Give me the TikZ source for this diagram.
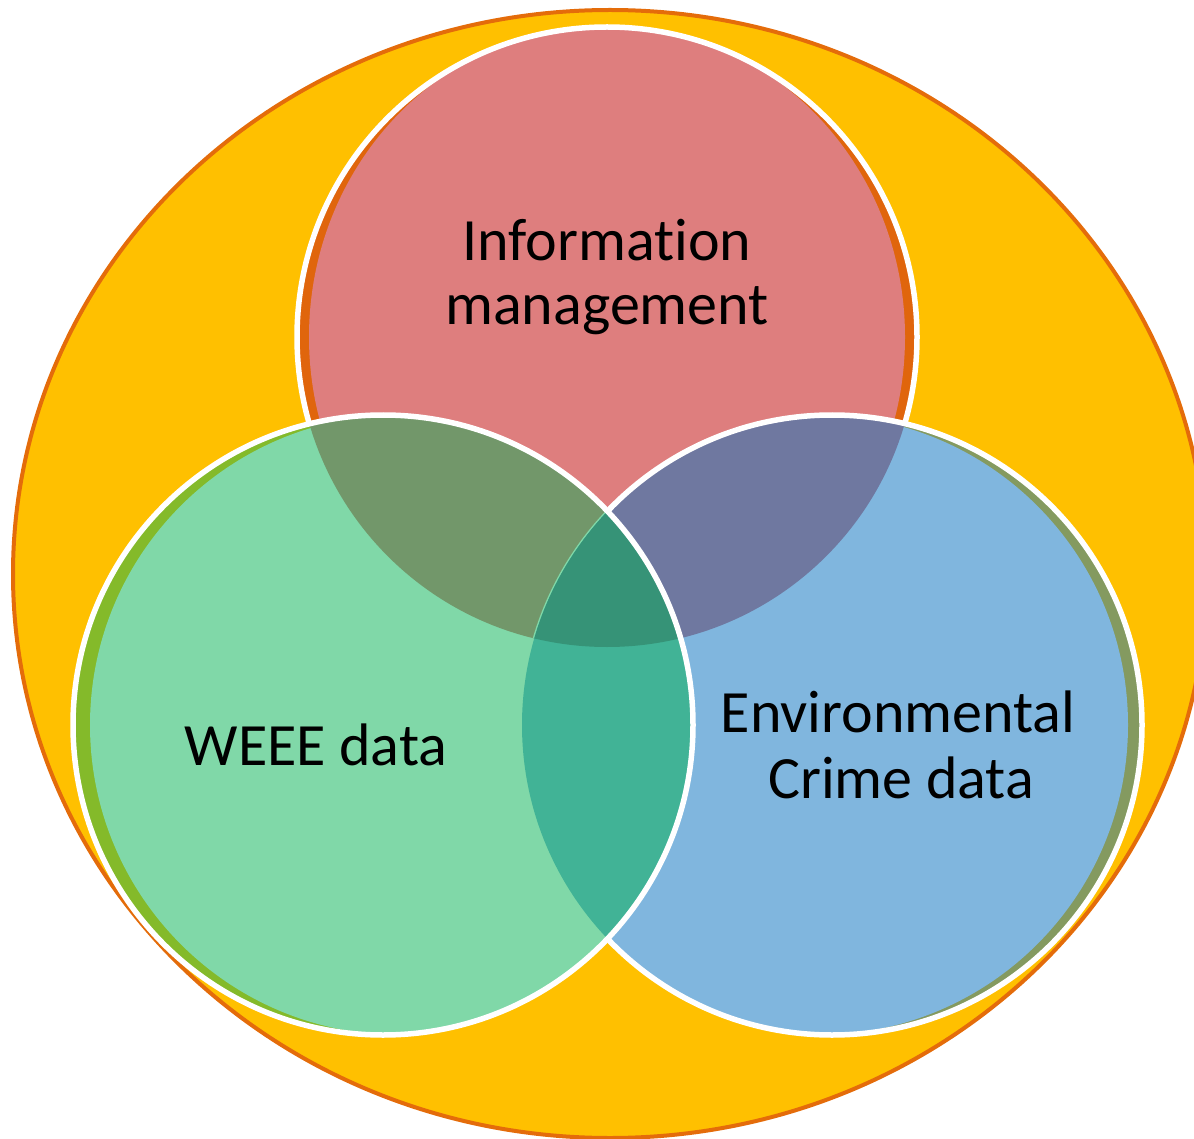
\documentclass[tikz,border=0pt]{standalone}
\usepackage{fontspec}
\setmainfont{Carlito}[Ligatures={NoCommon}]
\definecolor{yel}{HTML}{FFC000}
\definecolor{orng}{HTML}{E46C0A}
\definecolor{redF}{HTML}{DE7E7E}
\definecolor{redB}{HTML}{E0650C}
\definecolor{grnF}{HTML}{80D8A8}
\definecolor{grnB}{HTML}{84BA2A}
\definecolor{bluF}{HTML}{80B6DE}
\definecolor{bluB}{HTML}{849A60}
\definecolor{rgC}{HTML}{72976A}
\definecolor{rbC}{HTML}{6F78A0}
\definecolor{gbC}{HTML}{41B396}
\definecolor{rgbC}{HTML}{369377}
\begin{document}
\begin{tikzpicture}[x=1pt,y=-1pt,
  outline/.style={draw=white,line width=5.5pt},
  lbl/.style={font=\fontsize{60}{66}\selectfont, anchor=base, inner sep=0pt, text=black}]
\useasboundingbox (0,0) rectangle (1194,1139);
\def\R{310pt}
\coordinate (cr) at (607,337);
\coordinate (cg) at (383,725);
\coordinate (cb) at (832,725);
% big ellipse
\filldraw[fill=yel,draw=orng,line width=4pt] (610,574) ellipse [x radius=597pt, y radius=564pt];
% red circle
\fill[redB] (cr) circle[radius=\R];
\begin{scope}
  \clip (cr) circle[radius=\R];
  \fill[redF] (cr) ellipse[x radius=298pt, y radius=312pt];
\end{scope}
\draw[outline] (cr) circle[radius=\R];
% blue circle
\fill[bluB] (cb) circle[radius=\R];
\begin{scope}
  \clip (cb) circle[radius=\R];
  \fill[bluF] (818,725) circle[radius=\R];
  \clip (cr) circle[radius=\R];
  \fill[rbC] (cb) circle[radius=\R];
\end{scope}
\draw[outline] (cb) circle[radius=\R];
% green circle
\fill[grnB] (cg) circle[radius=\R];
\begin{scope}
  \clip (cg) circle[radius=\R];
  \fill[grnF] (400,725) circle[radius=\R];
  \begin{scope}
    \clip (cr) circle[radius=\R];
    \fill[rgC] (cg) circle[radius=\R];
    \draw[grnF,line width=3pt] (cb) circle[radius=\R];
  \end{scope}
  \begin{scope}
    \clip (cb) circle[radius=\R];
    \fill[gbC] (cb) circle[radius=\R];
    \clip (cr) circle[radius=\R];
    \fill[rgbC] (cb) circle[radius=\R];
  \end{scope}
\end{scope}
\draw[outline] (cg) circle[radius=\R];
% labels
\node[lbl] (info1) at (607,261) {Informat\kern0pt ion};
\node[lbl] (info2) at (607,325) {management};
\node[lbl] (weee) at (316,765) {WEEE data};
\node[lbl] (env1) at (898,732) {Environmental};
\node[lbl] (env2) at (901,798) {Crime data};
\end{tikzpicture}
\end{document}
